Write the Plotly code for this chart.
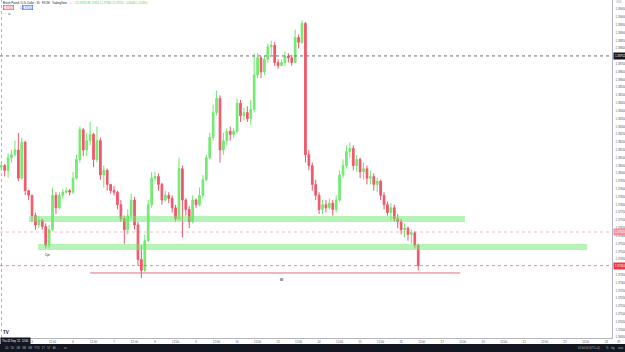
import plotly.graph_objects as go

# ---------------- data (2h candles) ----------------
opens = [1.3804, 1.3805, 1.3802, 1.3810, 1.3812, 1.3815, 1.3797, 1.3820, 1.3789, 1.3786,
         1.3773, 1.3767, 1.3770, 1.3766, 1.3754, 1.3764, 1.3786, 1.3778, 1.3786, 1.3788,
         1.3789, 1.3788, 1.3797, 1.3809, 1.3828, 1.3815, 1.3821, 1.3825, 1.3809, 1.3821,
         1.3799, 1.3802, 1.3793, 1.3789, 1.3788, 1.3780, 1.3771, 1.3764, 1.3773, 1.3783,
         1.3767, 1.3745, 1.3738, 1.3757, 1.3780, 1.3797, 1.3798, 1.3793, 1.3783, 1.3786,
         1.3784, 1.3778, 1.3771, 1.3803, 1.3783, 1.3777, 1.3769, 1.3783, 1.3780, 1.3786,
         1.3796, 1.3810, 1.3823, 1.3839, 1.3848, 1.3815, 1.3821, 1.3827, 1.3825, 1.3827,
         1.3845, 1.3837, 1.3839, 1.3835, 1.3841, 1.3863, 1.3874, 1.3865, 1.3873, 1.3881,
         1.3882, 1.3871, 1.3869, 1.3871, 1.3875, 1.3874, 1.3871, 1.3887, 1.3884, 1.3896,
         1.3812, 1.3805, 1.3793, 1.3786, 1.3777, 1.3780, 1.3778, 1.3781, 1.3777, 1.3783,
         1.3799, 1.3805, 1.3814, 1.3816, 1.3805, 1.3809, 1.3801, 1.3803, 1.3797, 1.3798,
         1.3793, 1.3795, 1.3786, 1.3780, 1.3775, 1.3778, 1.3771, 1.3769, 1.3764, 1.3765,
         1.3761, 1.3762, 1.3754]
highs = [1.3807, 1.3806, 1.3813, 1.3815, 1.3821, 1.3826, 1.3823, 1.3821, 1.3789, 1.3786,
         1.3775, 1.3773, 1.3771, 1.3768, 1.3767, 1.3791, 1.3788, 1.3788, 1.3790, 1.3791,
         1.3790, 1.3801, 1.3812, 1.3830, 1.3829, 1.3826, 1.3833, 1.3826, 1.3830, 1.3823,
         1.3805, 1.3803, 1.3793, 1.3792, 1.3789, 1.3783, 1.3773, 1.3777, 1.3787, 1.3785,
         1.3769, 1.3754, 1.3761, 1.3783, 1.3801, 1.3801, 1.3800, 1.3794, 1.3789, 1.3788,
         1.3786, 1.3780, 1.3810, 1.3805, 1.3784, 1.3779, 1.3786, 1.3784, 1.3791, 1.3799,
         1.3812, 1.3826, 1.3844, 1.3853, 1.3850, 1.3826, 1.3829, 1.3830, 1.3829, 1.3848,
         1.3847, 1.3842, 1.3843, 1.3847, 1.3877, 1.3877, 1.3875, 1.3875, 1.3883, 1.3885,
         1.3884, 1.3873, 1.3873, 1.3878, 1.3877, 1.3876, 1.3892, 1.3889, 1.3898, 1.3897,
         1.3815, 1.3807, 1.3796, 1.3788, 1.3783, 1.3783, 1.3784, 1.3783, 1.3786, 1.3802,
         1.3809, 1.3818, 1.3820, 1.3818, 1.3812, 1.3810, 1.3807, 1.3805, 1.3802, 1.3800,
         1.3797, 1.3796, 1.3788, 1.3782, 1.3781, 1.3780, 1.3774, 1.3771, 1.3768, 1.3766,
         1.3764, 1.3763, 1.3755]
lows = [1.3802, 1.3798, 1.3797, 1.3807, 1.3811, 1.3795, 1.3796, 1.3786, 1.3783, 1.3769,
        1.3764, 1.3765, 1.3764, 1.3752, 1.3752, 1.3763, 1.3774, 1.3777, 1.3784, 1.3787,
        1.3786, 1.3787, 1.3796, 1.3807, 1.3811, 1.3811, 1.3818, 1.3804, 1.3807, 1.3796,
        1.3791, 1.3789, 1.3787, 1.3786, 1.3777, 1.3769, 1.3755, 1.3761, 1.3771, 1.3764,
        1.3741, 1.3733, 1.3737, 1.3756, 1.3778, 1.3795, 1.3789, 1.3780, 1.3782, 1.3781,
        1.3775, 1.3769, 1.3770, 1.3759, 1.3773, 1.3765, 1.3768, 1.3778, 1.3779, 1.3784,
        1.3795, 1.3809, 1.3821, 1.3837, 1.3807, 1.3812, 1.3818, 1.3821, 1.3823, 1.3826,
        1.3833, 1.3834, 1.3833, 1.3831, 1.3839, 1.3861, 1.3861, 1.3863, 1.3871, 1.3876,
        1.3869, 1.3867, 1.3869, 1.3869, 1.3871, 1.3869, 1.3871, 1.3880, 1.3883, 1.3807,
        1.3802, 1.3789, 1.3783, 1.3774, 1.3774, 1.3775, 1.3777, 1.3773, 1.3775, 1.3782,
        1.3797, 1.3803, 1.3810, 1.3802, 1.3801, 1.3797, 1.3796, 1.3793, 1.3793, 1.3789,
        1.3788, 1.3783, 1.3777, 1.3773, 1.3770, 1.3769, 1.3765, 1.3761, 1.3759, 1.3757,
        1.3755, 1.3752, 1.3738]
closes = [1.3805, 1.3802, 1.3810, 1.3812, 1.3815, 1.3797, 1.3820, 1.3789, 1.3786, 1.3773,
          1.3767, 1.3770, 1.3766, 1.3754, 1.3764, 1.3786, 1.3778, 1.3786, 1.3788, 1.3789,
          1.3788, 1.3797, 1.3809, 1.3828, 1.3815, 1.3821, 1.3825, 1.3809, 1.3821, 1.3799,
          1.3802, 1.3793, 1.3789, 1.3788, 1.3780, 1.3771, 1.3764, 1.3773, 1.3783, 1.3767,
          1.3745, 1.3738, 1.3757, 1.3780, 1.3797, 1.3798, 1.3793, 1.3783, 1.3786, 1.3784,
          1.3778, 1.3771, 1.3803, 1.3783, 1.3777, 1.3769, 1.3783, 1.3780, 1.3786, 1.3796,
          1.3810, 1.3823, 1.3839, 1.3848, 1.3815, 1.3821, 1.3827, 1.3825, 1.3827, 1.3845,
          1.3837, 1.3839, 1.3835, 1.3841, 1.3863, 1.3874, 1.3865, 1.3873, 1.3881, 1.3882,
          1.3871, 1.3869, 1.3871, 1.3875, 1.3874, 1.3871, 1.3887, 1.3884, 1.3896, 1.3812,
          1.3805, 1.3793, 1.3786, 1.3777, 1.3780, 1.3778, 1.3781, 1.3777, 1.3783, 1.3799,
          1.3805, 1.3814, 1.3816, 1.3805, 1.3809, 1.3801, 1.3803, 1.3797, 1.3798, 1.3793,
          1.3795, 1.3786, 1.3780, 1.3775, 1.3778, 1.3771, 1.3769, 1.3764, 1.3765, 1.3761,
          1.3762, 1.3754, 1.3741]

day_labels = ["3", "6", "7", "8", "9", "10", "13", "14", "15", "16", "17", "20", "21", "22", "23"]
first_day_index = 9
candles_per_day = 12

# drawings
zones_low = [1.37689, 1.37510]
zones_high = [1.37728, 1.37548]
zones_x0 = [8.1, 10.8]
zones_x1 = [135.7, 171.4]
low_line_price = 1.37363
low_line_x = [26.0, 134.3]
crosshair_price = 1.38752
prev_level_price = 1.37625
last_price = closes[-1]

# ---------------- layout helpers ----------------
W, H = 625, 352
PLOT_R, PLOT_B = 612, 338
XR = [-0.37, 178.7]
YR = [1.369468, 1.3911]
FONT = "Liberation Sans"


def pxx(px):
    return px / W


def pxy(py):
    return 1 - py / H


x = list(range(len(closes)))

fig = go.Figure(go.Candlestick(
    x=x, open=opens, high=highs, low=lows, close=closes,
    increasing=dict(line=dict(color="#6fe86f", width=1), fillcolor="#7cec7c"),
    decreasing=dict(line=dict(color="#f2566a", width=1), fillcolor="#f2566a"),
    whiskerwidth=0, hoverinfo="skip", showlegend=False,
))

tickvals, ticktext = [], []
for k, d in enumerate(day_labels):
    v = first_day_index + candles_per_day * k
    tickvals.append(v)
    ticktext.append(d)
    tickvals.append(v + candles_per_day // 2)
    ticktext.append("12:00")

shapes = []
# zones
for lo, hi, a, b in zip(zones_low, zones_high, zones_x0, zones_x1):
    shapes.append(dict(type="rect", xref="x", yref="y", x0=a, x1=b, y0=lo, y1=hi,
                       fillcolor="rgba(110,232,110,0.5)", line=dict(width=0), layer="above"))
# low line
shapes.append(dict(type="line", xref="x", yref="y", x0=low_line_x[0], x1=low_line_x[1],
                   y0=low_line_price, y1=low_line_price, line=dict(color="#e0707c", width=1)))
# crosshair / level lines
shapes.append(dict(type="line", xref="paper", yref="y", x0=0, x1=pxx(PLOT_R),
                   y0=crosshair_price, y1=crosshair_price,
                   line=dict(color="#6a6d78", width=1, dash="dot")))
shapes.append(dict(type="line", xref="paper", yref="paper", x0=pxx(1.5), x1=pxx(1.5),
                   y0=pxy(PLOT_B), y1=1, line=dict(color="#b2b5be", width=1, dash="dot")))
shapes.append(dict(type="line", xref="paper", yref="y", x0=0, x1=pxx(PLOT_R),
                   y0=prev_level_price, y1=prev_level_price,
                   line=dict(color="rgba(242,100,120,0.45)", width=1, dash="dot")))
shapes.append(dict(type="line", xref="paper", yref="y", x0=0, x1=pxx(PLOT_R),
                   y0=last_price, y1=last_price,
                   line=dict(color="rgba(242,54,69,0.6)", width=1, dash="dot")))
# bottom toolbar
shapes.append(dict(type="rect", xref="paper", yref="paper", x0=0, x1=1, y0=0, y1=pxy(344),
                   fillcolor="#131722", line=dict(width=0), layer="above"))

ann = []


def txt(px, py, s, size=2.7, color="#131722", xa="left", ya="middle", **kw):
    ann.append(dict(xref="paper", yref="paper", x=pxx(px), y=pxy(py), text=s, showarrow=False,
                    xanchor=xa, yanchor=ya, font=dict(family=FONT, size=size, color=color),
                    borderpad=0, **kw))


# header
txt(2, 3, "British Pound / U.S. Dollar · 30 · FXCM · TradingView", size=2.7)
txt(69, 3, "●", size=3, color="#f7a8b3")
txt(74, 3, "O1.37450 H1.37451 L1.37380 C1.37410 −0.00040 (−0.03%)", size=2.7, color="#3bd83b")
txt(2.5, 8, "1.37407", size=2.7, color="#f23645", bordercolor="#f23645", borderwidth=0.6)
txt(18.5, 8, "0.3", size=2.7, color="#787b86")
txt(22, 8, "1.37410", size=2.7, color="#2962ff", bordercolor="#2962ff", borderwidth=0.6)
txt(2.5, 14, "⌃ ⊞", size=2.7, color="#787b86")

# chart text marks
ann.append(dict(xref="x", yref="y", x=13.4, y=1.37478, text="Cpt", showarrow=False,
                font=dict(family=FONT, size=3, color="#131722")))
ann.append(dict(xref="x", yref="y", x=81.9, y=1.37318, text="<b>lll</b>", showarrow=False,
                font=dict(family=FONT, size=3.5, color="#131722")))


# axis labels boxes
def axlabel(price, s, bg):
    ann.append(dict(xref="paper", yref="y", x=pxx(PLOT_R + 0.5), y=price, text=s, showarrow=False,
                    xanchor="left", yanchor="middle", bgcolor=bg, borderpad=1,
                    font=dict(family=FONT, size=2.8, color="#ffffff")))


axlabel(crosshair_price, "1.38752", "#131722")
axlabel(prev_level_price, "1.37625", "#f48fa0")
axlabel(last_price, "1.37410", "#f23645")
txt(615, 2.5, "USD", size=2.7, color="#9598a1")

# time crosshair box & logo
ann.append(dict(xref="paper", yref="paper", x=0, y=pxy(341), text="Thu 02 Sep '21  12:00",
                showarrow=False, xanchor="left", yanchor="middle", bgcolor="#131722",
                borderpad=1, font=dict(family=FONT, size=2.7, color="#ffffff")))
txt(1.5, 332, "<b>TV</b>", size=4.5, color="#131722")
txt(618.5, 341, "⚙", size=4, color="#787b86", xa="center")

# toolbar texts
txt(4, 348, "1D   5D   1M   3M   6M   YTD   1Y   5Y   All  ⌄     ⊡", size=2.7, color="#b2b5be")
txt(577, 348, "02:44:44 (UTC+4)", size=2.7, color="#b2b5be")
txt(605, 348, "%", size=2.7, color="#b2b5be")
txt(610, 348, "log", size=2.7, color="#b2b5be")
txt(617, 348, "auto", size=2.7, color="#b2b5be")

fig.update_layout(
    width=W, height=H, margin=dict(l=0, r=0, t=0, b=0),
    paper_bgcolor="#ffffff", plot_bgcolor="#ffffff",
    showlegend=False, shapes=shapes, annotations=ann,
    font=dict(family=FONT, size=3, color="#131722"),
    xaxis=dict(domain=[0, pxx(PLOT_R)], range=XR, rangeslider=dict(visible=False),
               showgrid=False, zeroline=False, showline=True, linecolor="#b2b5be", linewidth=1,
               tickmode="array", tickvals=tickvals, ticktext=ticktext, ticks="",
               tickfont=dict(family=FONT, size=2.8, color="#50535e"), ticklabelstandoff=1),
    yaxis=dict(domain=[1 - PLOT_B / H, 1], range=YR, side="right",
               showgrid=False, zeroline=False, showline=True, linecolor="#b2b5be", linewidth=1,
               tick0=1.3700, dtick=0.0005, tickformat=".5f", ticks="",
               tickfont=dict(family=FONT, size=2.8, color="#50535e"), ticklabelstandoff=2),
)

fig.write_html("out.html", config={"displayModeBar": False})
